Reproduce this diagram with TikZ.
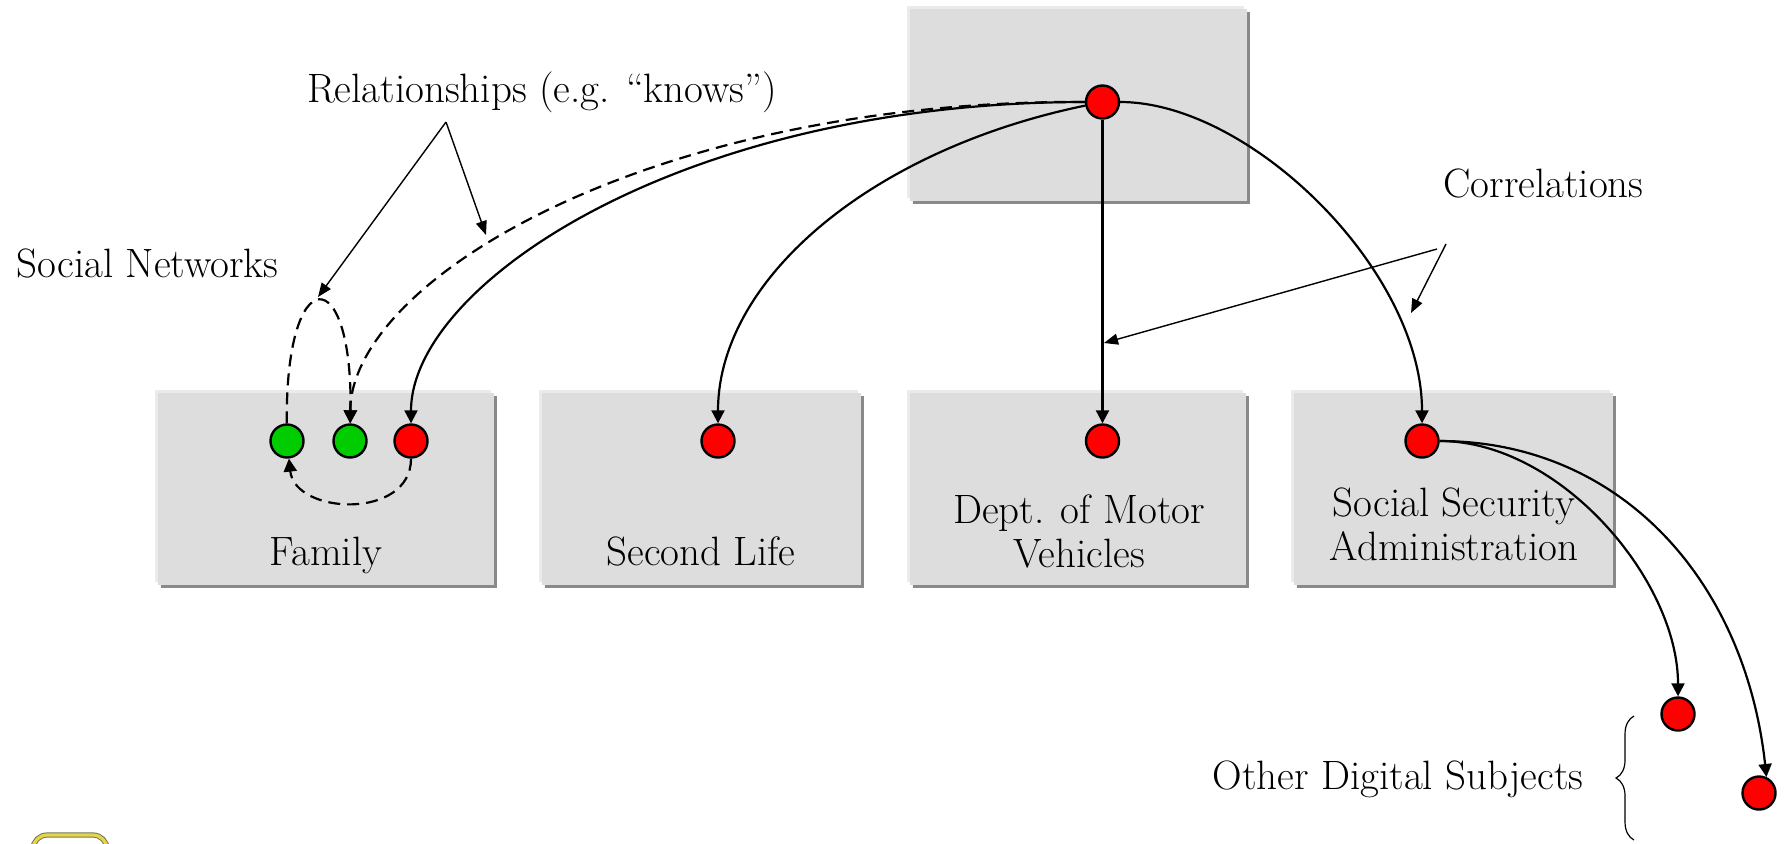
\documentclass[tikz,border=0pt]{standalone}
\usetikzlibrary{arrows.meta,shadows,decorations.pathreplacing}
\definecolor{boxgray}{HTML}{DDDDDD}
\definecolor{shadowgray}{HTML}{898989}
\definecolor{edgegray}{HTML}{EBEBEB}
\definecolor{dotred}{HTML}{FF0000}
\definecolor{dotgreen}{HTML}{00CC00}
\definecolor{logoedge}{HTML}{76764E}
\definecolor{logoyellow}{HTML}{E4D64C}
\begin{document}
\begin{tikzpicture}[x=0.5pt,y=-0.5pt,
  every node/.style={font=\fontsize{20.5}{22}\selectfont},
  gbox/.style={rectangle, draw=none, fill=boxgray, inner sep=0pt, minimum height=96pt,
     general shadow={fill=edgegray, shadow xshift=-1.5pt, shadow yshift=1.5pt},
     general shadow={fill=shadowgray, shadow xshift=1.5pt, shadow yshift=-1.5pt}},
  dot/.style={circle, draw=black, line width=1.2pt, minimum size=16.5pt, inner sep=0pt},
  reddot/.style={dot, fill=dotred},
  greendot/.style={dot, fill=dotgreen},
  lbl/.style={inner sep=0pt, anchor=base},
  conn/.style={line width=1.1pt, -{Triangle[length=6.5pt,width=6.5pt]}},
  dconn/.style={conn, dash pattern=on 6pt off 3.5pt},
  note/.style={line width=0.7pt, -{Triangle[length=7pt,width=5.5pt]}},
  bracestyle/.style={line width=0.6pt, decorate, decoration={brace, amplitude=9pt}},
]
\useasboundingbox (0,0) rectangle (1791,843);

% boxes
\node[gbox, minimum width=168.5pt] (topbox) at (1078.5,105) {};
\node[gbox, minimum width=168pt] (fambox) at (326,489) {};
\node[gbox, minimum width=159.5pt] (slbox) at (701.5,489) {};
\node[gbox, minimum width=168pt] (dmvbox) at (1078,489) {};
\node[gbox, minimum width=159.5pt] (ssabox) at (1453.5,489) {};

% labels
\node[lbl] (famlbl) at (326,565) {Family};
\node[lbl] (sllbl) at (701,565) {Second Life};
\node[lbl] (dmvlbl) at (1079,567) {\begin{tabular}[b]{@{}c@{}}Dept. of Motor\\Vehicles\end{tabular}};
\node[lbl] (ssalbl) at (1454,560) {\begin{tabular}[b]{@{}c@{}}Social Security\\Administration\end{tabular}};
\node[lbl] (rellbl) at (542,102) {Relationships (e.g. ``knows'')};
\node[lbl] (snlbl) at (147.5,277) {Social Networks};
\node[lbl] (corrlbl) at (1543.5,197) {Correlations};
\node[lbl] (odslbl) at (1398,789) {Other Digital Subjects};

% dots
\node[reddot] (topr) at (1102.5,102) {};
\node[greendot] (g1) at (287,441) {};
\node[greendot] (g2) at (350,441) {};
\node[reddot] (fr) at (411,441) {};
\node[reddot] (slr) at (718,441) {};
\node[reddot] (dmvr) at (1102.5,441) {};
\node[reddot] (ssar) at (1422,441) {};
\node[reddot] (o1) at (1678,714) {};
\node[reddot] (o2) at (1759,793) {};

% connectors
\draw[conn] (topr) .. controls (680,102) and (411,285) .. (fr);
\draw[dconn] (topr) .. controls (650,100) and (351,280) .. (g2);
\draw[conn] (topr) .. controls (870,150) and (718,280) .. (slr);
\draw[conn] (topr) -- (dmvr);
\draw[conn] (topr) .. controls (1250,102) and (1422,270) .. (ssar);
\draw[conn] (ssar) .. controls (1560,441) and (1678,580) .. (o1);
\draw[conn] (ssar) .. controls (1620,441) and (1745,580) .. (o2.65);
\draw[dconn] (g1) .. controls (285,260) and (353,260) .. (g2);
\draw[dconn] (fr) .. controls (411,520) and (295,515) .. (g1);

% annotation arrows
\coordinate (relfork) at (446,122);
\coordinate (sntip) at (318,297);
\coordinate (reltip) at (486,235);
\draw[note] (relfork) -- (sntip);
\draw[note] (relfork) -- (reltip);
\coordinate (corrA) at (1437,249);
\coordinate (corrB) at (1446,244);
\coordinate (dmvtip) at (1104,343);
\coordinate (ssatip) at (1411,313);
\draw[note] (corrA) -- (dmvtip);
\draw[note] (corrB) -- (ssatip);

% brace
\coordinate (braceB) at (1634,840);
\coordinate (braceT) at (1634,716);
\draw[bracestyle] (braceB) -- (braceT);

% partial logo at bottom left
\draw[line width=2.6pt, logoedge, rounded corners=7pt] (33,875) -- (33,835) -- (107,835) -- (107,875);
\draw[line width=1.6pt, logoyellow, rounded corners=7pt] (33,875) -- (33,835) -- (107,835) -- (107,875);
\end{tikzpicture}
\end{document}
